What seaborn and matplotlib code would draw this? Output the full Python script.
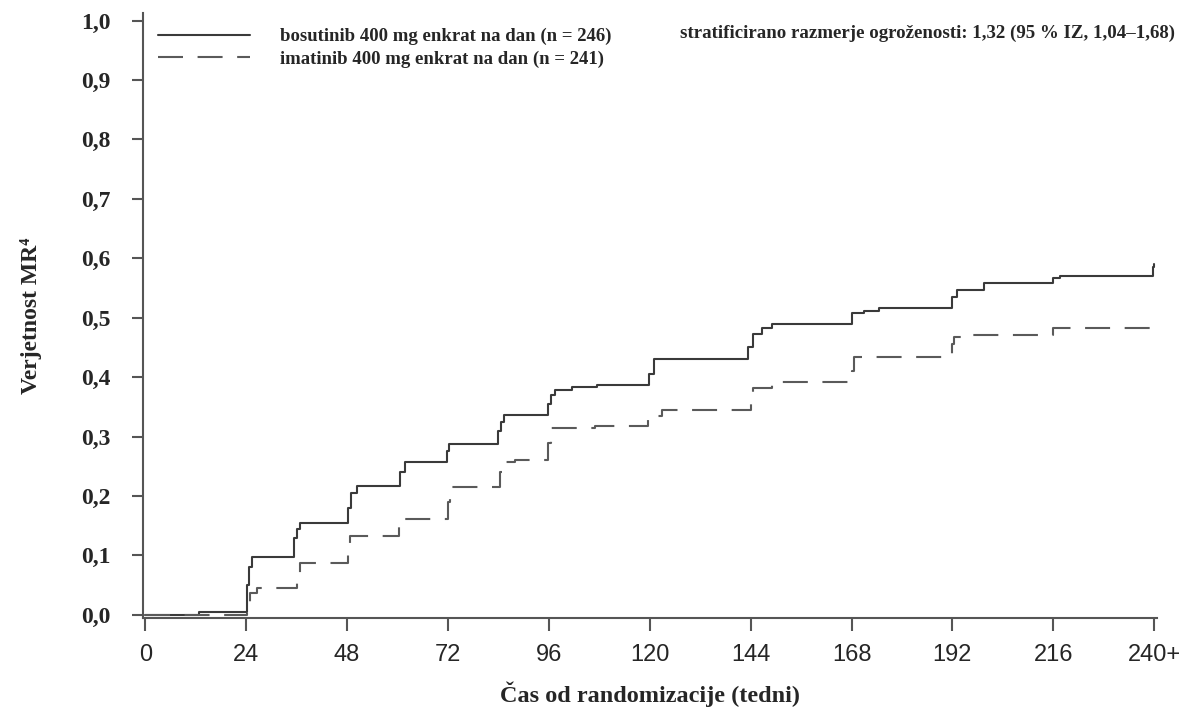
import numpy as np
import pandas as pd
import matplotlib
matplotlib.use("Agg")
import matplotlib.pyplot as plt
import seaborn as sns

# step curves (weeks, cumulative probability of MR4)
bos_weeks = [0, 12.8, 24.3, 24.7, 25.3, 35.3, 36.2, 36.8, 48.2, 49.0, 50.4,
             60.5, 61.8, 71.8, 72.3, 83.8, 84.5, 85.4, 95.8, 96.6, 97.4,
             101.4, 107.4, 119.8, 121.0, 143.4, 144.5, 146.8, 149.0, 168.0,
             171.0, 174.6, 192.0, 193.0, 199.6, 216.0, 217.5, 239.7, 240.0]
bos_prob = [0.0, 0.005, 0.05, 0.08, 0.098, 0.13, 0.145, 0.154, 0.18, 0.205, 0.217,
            0.24, 0.258, 0.275, 0.287, 0.31, 0.325, 0.336, 0.355, 0.37, 0.379,
            0.383, 0.386, 0.405, 0.43, 0.45, 0.473, 0.482, 0.489, 0.508,
            0.512, 0.517, 0.535, 0.547, 0.558, 0.566, 0.571, 0.585, 0.59]

ima_weeks = [0, 24.2, 25.0, 26.5, 36.2, 36.8, 48.2, 48.6, 60.4, 61.0, 72.0,
             72.6, 84.3, 85.0, 88.0, 95.8, 96.4, 107.0, 119.5, 123.0, 144.0,
             144.6, 149.0, 168.2, 168.6, 191.8, 192.5, 197.0, 216.0, 239.7, 240.0]
ima_prob = [0.0, 0.02, 0.037, 0.046, 0.06, 0.087, 0.10, 0.132, 0.15, 0.162, 0.19,
            0.215, 0.24, 0.258, 0.26, 0.29, 0.314, 0.318, 0.335, 0.345, 0.365,
            0.381, 0.392, 0.41, 0.434, 0.455, 0.468, 0.471, 0.482, 0.493, 0.493]

bos_label = "bosutinib 400 mg enkrat na dan (n = 246)"
ima_label = "imatinib 400 mg enkrat na dan (n = 241)"
hr_text = "stratificirano razmerje ogroženosti: 1,32 (95 % IZ, 1,04–1,68)"

x_ticks = list(range(0, 241, 24))
x_labels = [str(t) for t in x_ticks[:-1]] + ["240+"]
y_ticks = [i / 10 for i in range(11)]
y_labels = [f"{t:.1f}".replace(".", ",") for t in y_ticks]

df = pd.concat([
    pd.DataFrame({"week": bos_weeks, "prob": bos_prob, "arm": bos_label}),
    pd.DataFrame({"week": ima_weeks, "prob": ima_prob, "arm": ima_label}),
])

sns.set_style("ticks")
serif = ["Liberation Serif", "DejaVu Serif"]
sans = ["Liberation Sans", "DejaVu Sans"]
plt.rcParams["font.family"] = serif

fig = plt.figure(figsize=(11.9, 7.11), dpi=100)
ax = fig.add_axes([0.12, 0.131, 0.852, 0.851])

sns.lineplot(data=df, x="week", y="prob", hue="arm", style="arm",
             palette={bos_label: "#3a3a3a", ima_label: "#5a5a5a"},
             dashes={bos_label: "", ima_label: (12, 7)},
             estimator=None, sort=False, drawstyle="steps-post",
             linewidth=1.5, ax=ax, legend=True)

ax.set_xlim(-0.6, 240.6)
ax.set_ylim(-0.005, 1.013)
ax.set_xticks(x_ticks)
ax.set_xticklabels(x_labels, family=sans, fontsize=17)
ax.set_yticks(y_ticks)
ax.set_yticklabels(y_labels, fontweight="bold", fontsize=17)
ax.tick_params(axis="y", length=8, width=1.5, color="#555555", pad=15)
ax.tick_params(axis="x", length=9.5, width=1.5, color="#555555", pad=9)
for side in ["top", "right"]:
    ax.spines[side].set_visible(False)
for side in ["left", "bottom"]:
    ax.spines[side].set_color("#555555")
    ax.spines[side].set_linewidth(1.5)

ax.set_xlabel("Čas od randomizacije (tedni)", fontweight="bold", fontsize=17.5)
ax.set_ylabel("Verjetnost MR⁴", fontweight="bold", fontsize=17)
ax.xaxis.set_label_coords(0.5, -0.105)
ax.yaxis.set_label_coords(-0.099, 0.5)

leg = ax.legend(loc="upper left", bbox_to_anchor=(0.008, 0.987), frameon=False,
                handlelength=4.9, handletextpad=1.6, labelspacing=0.28,
                borderaxespad=0.0,
                prop={"family": serif, "weight": "bold", "size": 13.5})
for h in leg.get_lines():
    h.set_linewidth(1.5)

fig.text(0.9874, 0.9536, hr_text, ha="right", va="center",
         fontweight="bold", fontsize=13.6)

fig.savefig("out.png", dpi=100)
